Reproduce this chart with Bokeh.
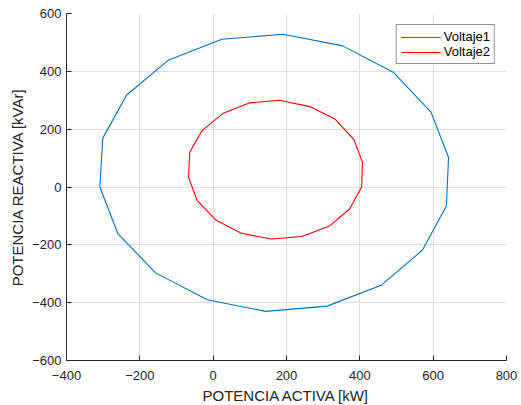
from bokeh.plotting import figure
from bokeh.models import Range1d, FixedTicker, Legend, LegendItem
from bokeh.embed import file_html
from bokeh.resources import INLINE

# Voltaje1 (closed loop)
p1_kw = [191, 353, 491, 594, 642, 636, 571, 458, 311, 143, -16, -157, -260, -309, -301, -236, -123, 24, 191]
q1_kvar = [528, 488, 397, 259, 102, -66, -218, -340, -412, -430, -390, -297, -161, 0, 169, 318, 438, 511, 528]

# Voltaje2 (closed loop)
p2_kw = [180, 264, 333, 384, 407, 405, 372, 316, 242, 159, 77, 7, -44, -67, -64, -31, 26, 100, 180]
q2_kvar = [300, 278, 234, 164, 86, 0, -76, -136, -171, -180, -160, -114, -46, 33, 120, 194, 254, 291, 300]

x_ticks = [-400, -200, 0, 200, 400, 600, 800]
y_ticks = [-600, -400, -200, 0, 200, 400, 600]

FONT = "Liberation Sans"
TXT = "#262626"

p = figure(width=521, height=405, output_backend="svg", toolbar_location=None,
           x_range=Range1d(-400, 800), y_range=Range1d(-600, 600),
           frame_width=440, frame_height=347,
           min_border_left=66, min_border_right=15, min_border_top=13, min_border_bottom=45)
p.outline_line_color = None
p.background_fill_color = "white"
p.border_fill_color = "white"

r1 = p.line(p1_kw, q1_kvar, line_color="#0072BD", line_width=1.1)
r2 = p.line(p2_kw, q2_kvar, line_color="#FF0000", line_width=1.1)

for ax, ticks, label in [(p.xaxis[0], x_ticks, "POTENCIA ACTIVA [kW]"),
                         (p.yaxis[0], y_ticks, "POTENCIA REACTIVA [kVAr]")]:
    ax.ticker = FixedTicker(ticks=ticks)
    ax.axis_label = label
    ax.axis_label_text_font = FONT
    ax.axis_label_text_font_size = "15px"
    ax.axis_label_text_font_style = "normal"
    ax.axis_label_text_color = TXT
    ax.major_label_text_font = FONT
    ax.major_label_text_font_size = "13px"
    ax.major_label_text_color = TXT
    ax.axis_line_color = "#262626"
    ax.major_tick_line_color = "#262626"
    ax.major_tick_in = 5
    ax.major_tick_out = 0
    ax.minor_tick_line_color = None
p.xaxis.major_label_standoff = 10
p.yaxis.major_label_standoff = 5
p.xaxis.axis_label_standoff = 4
p.yaxis.axis_label_standoff = 3

p.grid.grid_line_color = "#dedede"
p.grid.grid_line_width = 1

legend = Legend(items=[LegendItem(label="Voltaje1", renderers=[r1]),
                       LegendItem(label="Voltaje2", renderers=[r2])],
                location="top_right", margin=11)
legend.label_text_font = FONT
legend.label_text_font_size = "13px"
legend.label_text_color = "#000000"
legend.border_line_color = "#262626"
legend.border_line_width = 1
legend.padding = 4
legend.spacing = 0
legend.glyph_width = 40
legend.glyph_height = 14
legend.label_height = 14
legend.label_standoff = 3
legend.background_fill_alpha = 1
p.add_layout(legend, "center")

open("out.html", "w").write(file_html(p, INLINE))
